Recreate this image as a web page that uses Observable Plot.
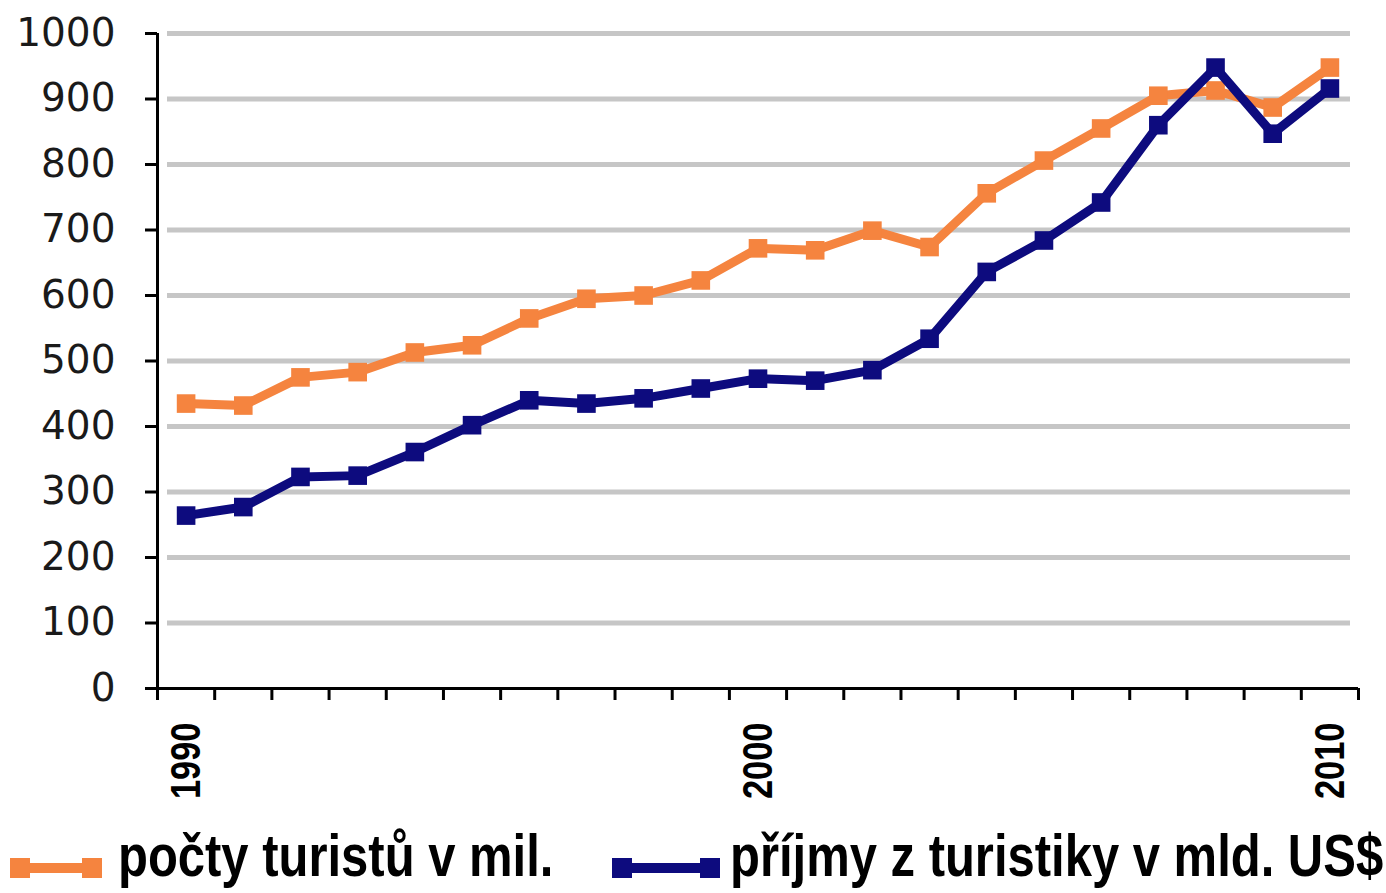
<!DOCTYPE html>
<html>
<head>
<meta charset="utf-8">
<script src="https://cdn.jsdelivr.net/npm/d3@7"></script>
<script src="https://cdn.jsdelivr.net/npm/@observablehq/plot@0.6"></script>
<style>
  html, body { margin: 0; padding: 0; background: #fff; width: 1386px; height: 893px; overflow: hidden; }
  #chart { position: absolute; left: 0; top: 0; }
  .legend { position: absolute; left: 0; top: 820px; width: 1386px; height: 73px; }
  .item { position: absolute; top: 0; display: flex; align-items: center; height: 73px; }
  .lbl { font-family: "Liberation Sans", Arial, sans-serif; font-weight: bold; font-size: 59px; color: #000;
         white-space: nowrap; line-height: 1; display: inline-block; transform: scaleX(0.83); transform-origin: left center; }
  .sw { display: block; }
</style>
</head>
<body>
<div id="chart"></div>
<div class="legend" id="legend"></div>
<script>
// ---- data ----
const years = [1990, 1991, 1992, 1993, 1994, 1995, 1996, 1997, 1998, 1999, 2000,
               2001, 2002, 2003, 2004, 2005, 2006, 2007, 2008, 2009, 2010];
const tourists = [435, 432, 475, 483, 513, 524, 565, 595, 600, 623, 672,
                  669, 699, 674, 756, 806, 855, 905, 913, 887, 948];
const receipts = [264, 277, 323, 325, 361, 402, 440, 435, 443, 458, 473,
                  470, 486, 534, 636, 684, 742, 860, 948, 847, 916];
const yTicks = [0, 100, 200, 300, 400, 500, 600, 700, 800, 900, 1000];
const gridValues = [100, 200, 300, 400, 500, 600, 700, 800, 900, 1000];
const labelYears = [1990, 2000, 2010];
const seriesNames = ["počty turistů v mil.", "příjmy z turistiky v mld. US$"];
const colors = ["#f5843f", "#0d0b7e"];

// category boundaries (ticks sit between years)
const xDomain = [years[0] - 0.5, years[years.length - 1] + 0.5];
const boundaries = [...years.map(y => y - 0.5), years[years.length - 1] + 0.5];

const rows = years.map((y, i) => ({year: y, tourists: tourists[i], receipts: receipts[i]}));

const plot = Plot.plot({
  width: 1386,
  height: 820,
  marginTop: 33,
  marginBottom: 132,
  marginLeft: 157,
  marginRight: 28,
  x: {domain: xDomain},
  y: {domain: [yTicks[0], yTicks[yTicks.length - 1]]},
  style: {background: "#fff", color: "#000"},
  marks: [
    Plot.ruleY(gridValues, {stroke: "#c6c6c6", strokeWidth: 5, insetLeft: 10, insetRight: 8}),
    Plot.axisY({ticks: yTicks, tickSize: 12, tickPadding: 30, strokeWidth: 3, label: null,
                tickFormat: d => String(d),
                fontSize: 39, fontFamily: "DejaVu Sans", fill: "#1a1a1a"}),
    Plot.ruleX([xDomain[0]], {stroke: "#000", strokeWidth: 3}),
    Plot.axisX({ticks: boundaries, tickSize: 12, strokeWidth: 3, tickFormat: () => "", label: null}),
    Plot.ruleY([yTicks[0]], {stroke: "#000", strokeWidth: 3}),
    Plot.axisX({ticks: labelYears, tickSize: 0, tickRotate: -90, tickPadding: 34, label: null,
                className: "xlab",
                tickFormat: d => String(d),
                fontSize: 43, fontWeight: "bold",
                fontFamily: "'Liberation Sans', Arial, sans-serif"}),
    Plot.line(rows, {x: "year", y: "tourists", stroke: colors[0], strokeWidth: 9}),
    Plot.dot(rows, {x: "year", y: "tourists", symbol: "square", r: 10.5, fill: colors[0], stroke: "none"}),
    Plot.line(rows, {x: "year", y: "receipts", stroke: colors[1], strokeWidth: 9}),
    Plot.dot(rows, {x: "year", y: "receipts", symbol: "square", r: 10.5, fill: colors[1], stroke: "none"})
  ]
});
document.getElementById("chart").appendChild(plot);

// condense rotated year labels along their length (narrow bold face)
d3.select(plot).selectAll(".xlab text").each(function() {
  const t = this.getAttribute("transform") || "";
  this.setAttribute("transform", t + " scale(0.8,1)");
});

// ---- legend ----
const legend = d3.select("#legend");
const legendLefts = [10, 612];
const swatchWidths = [92, 108];
const gaps = [16, 10];
seriesNames.forEach((name, i) => {
  const item = legend.append("div").attr("class", "item").style("left", legendLefts[i] + "px");
  const w = swatchWidths[i];
  const sw = item.append("svg").attr("class", "sw").attr("width", w).attr("height", 24)
    .style("margin-right", gaps[i] + "px").style("margin-top", "22px");
  sw.append("line").attr("x1", 10).attr("x2", w - 10).attr("y1", 12).attr("y2", 12)
    .attr("stroke", colors[i]).attr("stroke-width", 10);
  sw.append("rect").attr("x", 0).attr("y", 2).attr("width", 20).attr("height", 20).attr("fill", colors[i]);
  sw.append("rect").attr("x", w - 20).attr("y", 2).attr("width", 20).attr("height", 20).attr("fill", colors[i]);
  item.append("span").attr("class", "lbl").text(name);
});
</script>
</body>
</html>
